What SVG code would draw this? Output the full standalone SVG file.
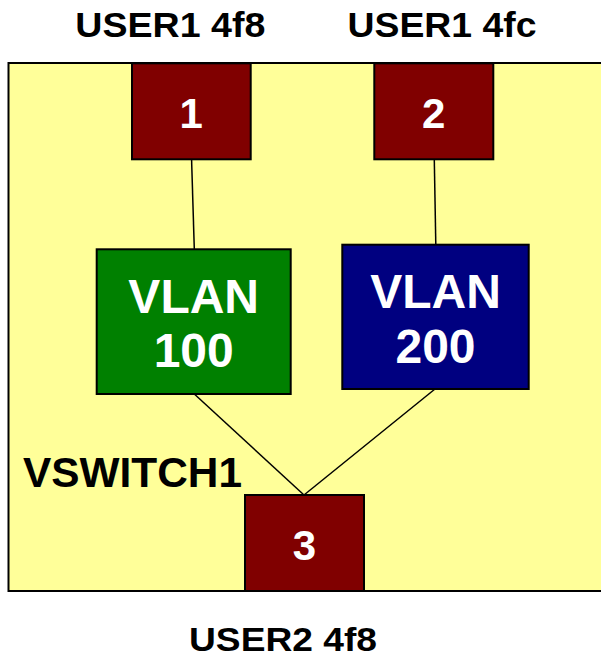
<svg xmlns="http://www.w3.org/2000/svg" width="601" height="658" viewBox="0 0 601 658">
<style>
.t{font-family:"Liberation Sans",Arial,sans-serif;font-weight:bold;}
.lab{fill:#000;font-size:35px;text-anchor:middle;}
.num{fill:#fff;font-size:42px;text-anchor:middle;}
.vl{fill:#fff;font-size:48px;text-anchor:middle;}
.port{fill:#800000;stroke:#000;stroke-width:2;}
.conn line{stroke:#000;stroke-width:1.5;fill:none;}
</style>
<rect width="601" height="658" fill="#fff"/>
<g id="vswitch1">
<rect x="8.5" y="63" width="610" height="528" fill="#FFFF99" stroke="#000" stroke-width="2"/>
<text class="t" x="23" y="486.7" font-size="42" textLength="219" lengthAdjust="spacingAndGlyphs">VSWITCH1</text>
</g>
<g class="conn" id="connectors">
<line x1="191.6" y1="160" x2="194.3" y2="249"/>
<line x1="434.3" y1="160" x2="435.8" y2="244.5"/>
<line x1="194.3" y1="394" x2="304" y2="495"/>
<line x1="435" y1="389" x2="304" y2="495"/>
</g>
<g id="label-user1-4f8"><text class="t lab" x="170.3" y="37.3" textLength="190" lengthAdjust="spacingAndGlyphs">USER1 4f8</text></g>
<g id="label-user1-4fc"><text class="t lab" x="442" y="37.3" textLength="189" lengthAdjust="spacingAndGlyphs">USER1 4fc</text></g>
<g id="label-user2-4f8"><text class="t lab" x="283" y="651" font-size="34" style="font-size:34px" textLength="188" lengthAdjust="spacingAndGlyphs">USER2 4f8</text></g>
<g id="port1">
<rect class="port" x="132" y="63.3" width="118.7" height="96"/>
<text class="t num" x="191.3" y="128.3">1</text>
</g>
<g id="port2">
<rect class="port" x="374.3" y="63.3" width="119" height="96"/>
<text class="t num" x="433.8" y="128.3">2</text>
</g>
<g id="port3">
<rect class="port" x="245" y="495" width="119" height="96"/>
<text class="t num" x="304.5" y="560">3</text>
</g>
<g id="vlan100">
<rect x="96.7" y="249.3" width="194" height="144.7" fill="#008000" stroke="#000" stroke-width="2"/>
<text class="t vl" x="193.7" y="312.7">VLAN</text>
<text class="t vl" x="193.7" y="367.3">100</text>
</g>
<g id="vlan200">
<rect x="342.3" y="244.7" width="186.4" height="144.3" fill="#000080" stroke="#000" stroke-width="2"/>
<text class="t vl" x="435.5" y="308">VLAN</text>
<text class="t vl" x="435.5" y="362.5">200</text>
</g>
</svg>
